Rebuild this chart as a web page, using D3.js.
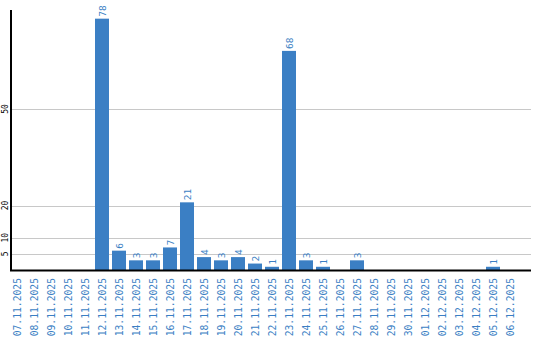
<!DOCTYPE html>
<html lang="en">
<head>
    <meta charset="UTF-8">
    <title>Daily counts</title>
    <style>
        body { margin: 0; background: #fff; }
    </style>
</head>
<body>
    <div id="chart"></div>
    <script src="https://d3js.org/d3.v7.min.js"></script>
    <script>
        var dates = ["07.11.2025", "08.11.2025", "09.11.2025", "10.11.2025", "11.11.2025",
            "12.11.2025", "13.11.2025", "14.11.2025", "15.11.2025", "16.11.2025",
            "17.11.2025", "18.11.2025", "19.11.2025", "20.11.2025", "21.11.2025",
            "22.11.2025", "23.11.2025", "24.11.2025", "25.11.2025", "26.11.2025",
            "27.11.2025", "28.11.2025", "29.11.2025", "30.11.2025", "01.12.2025",
            "02.12.2025", "03.12.2025", "04.12.2025", "05.12.2025", "06.12.2025"];
        var counts = [0, 0, 0, 0, 0,
            78, 6, 3, 3, 7,
            21, 4, 3, 4, 2,
            1, 68, 3, 1, 0,
            3, 0, 0, 0, 0,
            0, 0, 0, 1, 0];
        var yTicks = [5, 10, 20, 50];

        var width = 540, height = 340;
        var blue = '#3b7fc4';

        var svg = d3.select('#chart')
            .append('svg')
                .attr('width', width)
                .attr('height', height);

        var x = d3.scaleBand()
            .domain(dates)
            .range([10, 520]);

        var y = d3.scaleLinear()
            .domain([0, 81])
            .range([270, 9]);

        var barW = x.bandwidth() - 3;

        // grid lines
        svg.append('g')
            .selectAll('line')
            .data(yTicks)
            .enter().append('line')
                .attr('x1', 10)
                .attr('x2', 531)
                .attr('y1', d => Math.round(y(d)) + 0.5)
                .attr('y2', d => Math.round(y(d)) + 0.5)
                .attr('stroke', '#c8c8c8')
                .attr('stroke-width', 1);

        // y tick labels
        svg.append('g')
            .selectAll('text')
            .data(yTicks)
            .enter().append('text')
                .attr('transform', d => 'translate(8,' + y(d) + ') rotate(-90)')
                .attr('text-anchor', 'middle')
                .style('font-family', 'DejaVu Sans Mono')
                .style('font-size', '8px')
                .style('fill', '#000')
                .text(d => d);

        // bars
        var data = dates.map((d, i) => ({date: d, value: counts[i]}));
        svg.append('g')
            .selectAll('rect')
            .data(data.filter(d => d.value > 0))
            .enter().append('rect')
                .attr('x', d => x(d.date))
                .attr('y', d => y(d.value))
                .attr('width', barW)
                .attr('height', d => y(0) - y(d.value))
                .style('fill', blue);

        // value labels
        svg.append('g')
            .selectAll('text')
            .data(data.filter(d => d.value > 0))
            .enter().append('text')
                .attr('transform', d => 'translate(' + (x(d.date) + barW / 2 + 3.5) + ',' + (y(d.value) - 2) + ') rotate(-90)')
                .attr('text-anchor', 'start')
                .style('font-family', 'DejaVu Sans Mono')
                .style('font-size', '9.5px')
                .style('fill', blue)
                .text(d => d.value);

        // axes lines
        svg.append('line')
            .attr('x1', 11).attr('x2', 11)
            .attr('y1', 10).attr('y2', 271)
            .attr('stroke', '#000')
            .attr('stroke-width', 2);
        svg.append('line')
            .attr('x1', 10).attr('x2', 531)
            .attr('y1', 270.5).attr('y2', 270.5)
            .attr('stroke', '#000')
            .attr('stroke-width', 2);

        // x labels
        svg.append('g')
            .selectAll('text')
            .data(dates)
            .enter().append('text')
                .attr('transform', d => 'translate(' + (x(d) + barW / 2 + 3.5) + ',278) rotate(-90)')
                .attr('text-anchor', 'end')
                .style('font-family', 'DejaVu Sans Mono')
                .style('font-size', '9.7px')
                .style('fill', blue)
                .text(d => d);
    </script>
</body>
</html>
